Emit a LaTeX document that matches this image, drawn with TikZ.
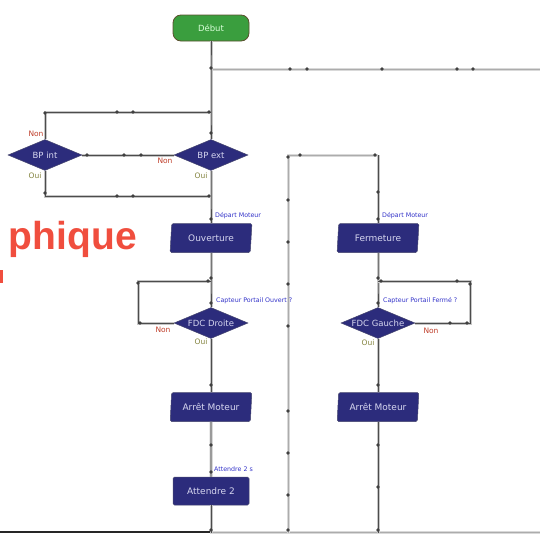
\documentclass[tikz,border=0pt]{standalone}
\usepackage{fontspec}
\setmainfont{DejaVu Sans}
\newfontfamily\bigfont{Liberation Sans}
\usetikzlibrary{shapes.geometric}
\definecolor{navy}{RGB}{44,44,124}
\definecolor{navyedge}{RGB}{70,70,110}
\definecolor{txtl}{RGB}{215,215,240}
\definecolor{grn}{RGB}{58,158,62}
\definecolor{grnedge}{RGB}{90,80,45}
\definecolor{nonred}{RGB}{190,60,40}
\definecolor{ouiol}{RGB}{130,130,60}
\definecolor{lblue}{RGB}{50,50,200}
\definecolor{bigred}{RGB}{240,78,62}
\tikzset{
  wire/.style={draw=black!70, line width=0.8pt, preaction={draw=gray!45, line width=3pt}},
  wirel/.style={draw=gray!65, line width=0.9pt, preaction={draw=gray!30, line width=3pt}},
  dia/.style={diamond, aspect=2.4, fill=navy, draw=navyedge, line width=0.5pt, inner sep=0pt,
    minimum width=74pt, minimum height=31pt, text=txtl, font=\fontsize{8.5}{9}\selectfont},
  para/.style={trapezium, trapezium left angle=82, trapezium right angle=98, trapezium stretches=true,
    fill=navy, draw=navyedge, line width=0.5pt, rounded corners=1.5pt, inner sep=0pt,
    minimum width=82pt, minimum height=29pt, text=txtl, font=\fontsize{9}{10}\selectfont},
  rectbox/.style={rectangle, fill=navy, draw=navyedge, line width=0.5pt, rounded corners=1.5pt,
    minimum width=76pt, minimum height=28pt, text=txtl, font=\fontsize{9}{10}\selectfont},
  startbox/.style={rectangle, rounded corners=8pt, fill=grn, draw=grnedge, line width=0.8pt,
    minimum width=76pt, minimum height=26pt, text=green!15, font=\fontsize{8.5}{9}\selectfont},
  non/.style={text=nonred, font=\fontsize{7.5}{8}\selectfont, inner sep=0pt},
  oui/.style={text=ouiol, font=\fontsize{7.5}{8}\selectfont, inner sep=0pt},
  lbl/.style={text=lblue, font=\fontsize{6.3}{7}\selectfont, inner sep=0pt, anchor=west},
  pt/.style={fill=black!75},
}
\begin{document}
\begin{tikzpicture}[x=1pt,y=-1pt]
\useasboundingbox (0,0) rectangle (540,533);
\begin{scope}
\clip (0,0) rectangle (540,533);
% big red partial heading
\node[anchor=base east, inner sep=0pt, text=bigred, font=\bigfont\bfseries\fontsize{39}{40}\selectfont] (head) at (137,249) {phique};
\fill[bigred] (0,270) rectangle (3,283);
% bottom lines
\draw[line width=2pt, black!85] (0,532) -- (210,532);
\draw[wirel] (210,532) -- (540,532);

% nodes
\node[startbox] (debut) at (211,28) {Début};
\node[dia] (bpint) at (45,155) {BP int};
\node[dia] (bpext) at (211,155) {BP ext};
\node[para] (ouv) at (211,238) {Ouverture};
\node[dia] (fdcd) at (211,323) {FDC Droite};
\node[para] (arr1) at (211,407) {Arrêt Moteur};
\node[rectbox] (att) at (211,491) {Attendre 2};
\node[para] (ferm) at (378,238) {Fermeture};
\node[dia] (fdcg) at (378,323) {FDC Gauche};
\node[para] (arr2) at (378,407) {Arrêt Moteur};

% coordinates
\coordinate (j0) at (211,69);
\coordinate (e0) at (540,69);
\coordinate (j1) at (211,112);
\coordinate (c1) at (45,112);
\coordinate (j2) at (211,196);
\coordinate (c2) at (45,196);
\coordinate (j3) at (211,281);
\coordinate (c3) at (138,281);
\coordinate (c4) at (138,323);
\coordinate (e1) at (211,533);
\coordinate (c5) at (288,533);
\coordinate (c6) at (288,155);
\coordinate (c7) at (378,155);
\coordinate (j4) at (378,281);
\coordinate (c8) at (470,281);
\coordinate (c9) at (470,323);
\coordinate (e2) at (378,533);

% connectors
\draw[wirel] (j0) -- (e0);
\draw[wirel] (c5) -- (c6) -- (c7);
\draw[wire] (debut) -- (j0) -- (j1) -- (bpext);
\draw[wire] (j1) -- (c1) -- (bpint);
\draw[wire] (bpint) -- (bpext);
\draw[wire] (bpint) -- (c2) -- (j2);
\draw[wire] (bpext) -- (j2) -- (ouv);
\draw[wire] (ouv) -- (j3) -- (fdcd);
\draw[wire] (j3) -- (c3) -- (c4) -- (fdcd);
\draw[wire] (fdcd) -- (arr1);
\draw[wire] (arr1) -- (att);
\draw[wire] (att) -- (e1);
\draw[wire] (c7) -- (ferm);
\draw[wire] (ferm) -- (j4) -- (fdcg);
\draw[wire] (j4) -- (c8) -- (c9) -- (fdcg);
\draw[wire] (fdcg) -- (arr2);
\draw[wire] (arr2) -- (e2);

% dots
\foreach \p in {(211,68),(290,69),(307,69),(382,69),(457,69),(473,69),
  (45,113),(117,112),(133,112),(209,112),(211,133),
  (87,155),(124,155),(141,155),
  (45,193),(117,196),(133,196),(209,196),
  (211,219),(211,278),(208,281),(138,283),(211,303),(140,323),
  (211,385),(211,445),(211,472),(211,530),
  (288,157),(300,155),(375,155),(378,192),(378,219),(378,278),(381,281),(457,281),(470,284),
  (378,303),(450,323),(467,323),
  (378,385),(378,445),(378,487),(378,530),
  (288,200),(288,242),(288,284),(288,326),(288,411),(288,453),(288,495),(288,530)}
  \fill[pt] \p circle (1.8pt);

% labels
\node[non] (n1) at (36,134) {Non};
\node[oui] (o1) at (35,176) {Oui};
\node[non] (n2) at (165,161) {Non};
\node[oui] (o2) at (201,176) {Oui};
\node[lbl] (l1) at (215,216) {Départ Moteur};
\node[lbl] (l2) at (216,301) {Capteur Portail Ouvert ?};
\node[non] (n3) at (163,330) {Non};
\node[oui] (o3) at (201,342) {Oui};
\node[lbl] (l3) at (214,469) {Attendre 2 s};
\node[lbl] (l4) at (382,216) {Départ Moteur};
\node[lbl] (l5) at (383,301) {Capteur Portail Fermé ?};
\node[non] (n4) at (431,331) {Non};
\node[oui] (o4) at (368,343) {Oui};
\end{scope}
\end{tikzpicture}
\end{document}
